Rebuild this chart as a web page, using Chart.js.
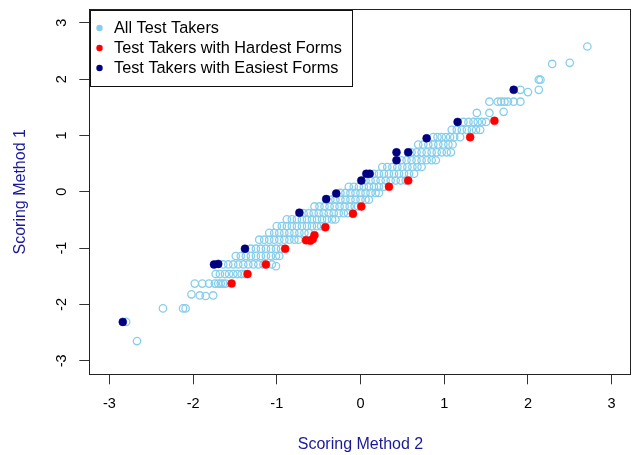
<!DOCTYPE html>
<html>
<head>
<meta charset="utf-8">
<script src="https://cdn.jsdelivr.net/npm/chart.js@4/dist/chart.umd.min.js"></script>
<style>
  html, body { margin: 0; padding: 0; background: #ffffff; }
  #c { display: block; }
</style>
</head>
<body>
<canvas id="c" width="637" height="455"></canvas>
<script>
// ---------------- data ----------------
const seriesLabels = ['All Test Takers', 'Test Takers with Hardest Forms', 'Test Takers with Easiest Forms'];
const xTitle = 'Scoring Method 2';
const yTitle = 'Scoring Method 1';
const xTicks = [-3, -2, -1, 0, 1, 2, 3];
const yTicks = [-3, -2, -1, 0, 1, 2, 3];

// [Scoring Method 2, Scoring Method 1]
const allTakers = [
  [-2.67,-2.65],
  [-2.80,-2.31],
  [-2.36,-2.07],[-2.12,-2.07],[-2.09,-2.07],
  [-2.02,-1.82],[-1.92,-1.84],[-1.85,-1.85],[-1.76,-1.84],
  [-1.98,-1.63],[-1.89,-1.63],[-1.81,-1.63],[-1.74,-1.63],[-1.70,-1.63],[-1.67,-1.63],[-1.64,-1.63],[-1.61,-1.63],
  [-1.73,-1.46],[-1.68,-1.46],[-1.62,-1.46],[-1.57,-1.46],[-1.52,-1.46],[-1.47,-1.46],[-1.42,-1.46],[-1.38,-1.46],
  [-1.64,-1.29],[-1.58,-1.29],[-1.52,-1.29],[-1.46,-1.29],[-1.40,-1.29],[-1.34,-1.29],[-1.28,-1.29],[-1.22,-1.29],[-1.16,-1.29],[-1.06,-1.29],[-1.01,-1.32],
  [-1.49,-1.14],[-1.43,-1.14],[-1.37,-1.14],[-1.31,-1.14],[-1.25,-1.14],[-1.19,-1.14],[-1.13,-1.14],[-1.07,-1.14],[-1.01,-1.14],[-0.97,-1.14],
  [-1.31,-1.01],[-1.25,-1.01],[-1.19,-1.01],[-1.13,-1.01],[-1.07,-1.01],[-1.01,-1.01],[-0.95,-1.01],
  [-1.21,-0.85],[-1.15,-0.85],[-1.09,-0.85],[-1.03,-0.85],[-0.97,-0.85],[-0.91,-0.85],[-0.85,-0.85],[-0.79,-0.85],[-0.74,-0.85],
  [-1.09,-0.73],[-1.03,-0.73],[-0.97,-0.73],[-0.91,-0.73],[-0.85,-0.73],[-0.79,-0.73],[-0.73,-0.73],[-0.67,-0.73],[-0.62,-0.73],
  [-1.00,-0.61],[-0.94,-0.61],[-0.88,-0.61],[-0.82,-0.61],[-0.76,-0.61],[-0.70,-0.61],[-0.64,-0.61],[-0.58,-0.61],[-0.52,-0.61],[-0.47,-0.61],
  [-0.88,-0.49],[-0.82,-0.49],[-0.76,-0.49],[-0.70,-0.49],[-0.64,-0.49],[-0.58,-0.49],[-0.52,-0.49],[-0.46,-0.49],[-0.40,-0.49],[-0.34,-0.49],[-0.30,-0.49],
  [-0.68,-0.38],[-0.62,-0.38],[-0.56,-0.38],[-0.50,-0.38],[-0.44,-0.38],[-0.38,-0.38],[-0.32,-0.38],[-0.26,-0.38],[-0.20,-0.38],[-0.15,-0.38],
  [-0.55,-0.26],[-0.49,-0.26],[-0.43,-0.26],[-0.37,-0.26],[-0.31,-0.26],[-0.25,-0.26],[-0.19,-0.26],[-0.13,-0.26],[-0.07,-0.26],[-0.03,-0.26],
  [-0.36,-0.14],[-0.30,-0.14],[-0.24,-0.14],[-0.18,-0.14],[-0.12,-0.14],[-0.06,-0.14],[0.00,-0.14],[0.06,-0.14],[0.10,-0.14],
  [-0.24,-0.02],[-0.18,-0.02],[-0.12,-0.02],[-0.06,-0.02],[0.00,-0.02],[0.06,-0.02],[0.12,-0.02],[0.18,-0.02],[0.22,-0.02],
  [-0.14,0.09],[-0.08,0.09],[-0.02,0.09],[0.04,0.09],[0.10,0.09],[0.16,0.09],[0.22,0.09],[0.28,0.09],
  [0.06,0.20],[0.12,0.20],[0.18,0.20],[0.24,0.20],[0.30,0.20],[0.36,0.20],[0.42,0.20],[0.48,0.20],[0.54,0.20],
  [0.16,0.32],[0.22,0.32],[0.28,0.32],[0.34,0.32],[0.40,0.32],[0.46,0.32],[0.52,0.32],[0.58,0.32],[0.64,0.32],
  [0.26,0.44],[0.32,0.44],[0.38,0.44],[0.44,0.44],[0.50,0.44],[0.56,0.44],[0.62,0.44],[0.68,0.44],[0.73,0.44],
  [0.49,0.56],[0.55,0.56],[0.61,0.56],[0.67,0.56],[0.73,0.56],[0.79,0.56],[0.85,0.56],[0.90,0.56],
  [0.61,0.70],[0.67,0.70],[0.73,0.70],[0.79,0.70],[0.85,0.70],[0.91,0.70],[0.97,0.70],[1.03,0.70],[1.08,0.70],
  [0.69,0.84],[0.75,0.84],[0.81,0.84],[0.87,0.84],[0.93,0.84],[0.99,0.84],[1.05,0.84],[1.10,0.84],
  [0.87,0.97],[0.92,0.97],[0.97,0.97],[1.02,0.97],[1.07,0.97],[1.12,0.97],[1.19,0.97],
  [1.09,1.10],[1.15,1.10],[1.21,1.10],[1.27,1.10],[1.33,1.10],[1.38,1.10],[1.43,1.10],
  [1.23,1.24],[1.29,1.24],[1.35,1.24],[1.40,1.24],[1.45,1.24],[1.50,1.24],
  [1.39,1.40],[1.54,1.40],[1.71,1.42],
  [1.54,1.60],[1.64,1.60],[1.68,1.60],[1.72,1.60],[1.76,1.60],[1.83,1.60],[1.91,1.60],
  [1.91,1.81],[2.00,1.77],[2.13,1.81],
  [2.13,1.99],[2.15,1.99],
  [2.29,2.27],[2.50,2.29],
  [2.71,2.58]
];

const hardestForms = [
  [-1.54,-1.63],[-1.35,-1.46],[-1.13,-1.29],[-0.90,-1.01],
  [-0.65,-0.86],[-0.60,-0.87],[-0.57,-0.84],[-0.55,-0.77],
  [-0.42,-0.63],[-0.09,-0.39],[0.01,-0.26],[0.34,0.09],[0.57,0.20],
  [1.31,0.97],[1.60,1.26]
];

const easiestForms = [
  [-2.84,-2.31],[-1.75,-1.29],[-1.70,-1.28],[-1.38,-1.01],
  [-0.73,-0.37],[-0.41,-0.13],[-0.29,-0.03],[0.01,0.20],[0.07,0.32],[0.11,0.32],
  [0.43,0.56],[0.43,0.70],[0.57,0.70],[0.79,0.95],[1.16,1.24],[1.83,1.81]
];

const seriesColors = ['#87CEEB', '#FF0000', '#000080'];

// ---------------- chart ----------------
const FONT = '"Liberation Sans", Arial, Helvetica, sans-serif';
const toPts = arr => arr.map(p => ({ x: p[0], y: p[1] }));

const boxPlugin = {
  id: 'boxPlugin',
  afterDraw(chart) {
    const { ctx, chartArea: a } = chart;
    ctx.save();
    ctx.strokeStyle = '#222';
    ctx.lineWidth = 1;
    ctx.strokeRect(Math.round(a.left) + 0.5, Math.round(a.top) + 0.5,
                   Math.round(a.right - a.left) - 1, Math.round(a.bottom - a.top));
    // legend box
    const lx = 90.5, ly = 10.5, lw = 262, lh = 76;
    ctx.fillStyle = '#fff';
    ctx.fillRect(lx, ly, lw, lh);
    ctx.strokeStyle = '#111';
    ctx.strokeRect(lx, ly, lw, lh);
    ctx.font = '16.3px ' + FONT;
    ctx.textBaseline = 'middle';
    ctx.textAlign = 'left';
    chart.data.datasets.forEach((ds, i) => {
      const y = 28 + i * 20;
      ctx.beginPath();
      ctx.arc(99.5, y, 3.2, 0, Math.PI * 2);
      ctx.fillStyle = seriesColors[i];
      ctx.fill();
      ctx.fillStyle = '#000';
      ctx.fillText(ds.label, 114, y + 1);
    });
    ctx.restore();
  }
};

const tickAxis = (ticksArr, title, isY) => ({
  type: 'linear',
  min: -3.24,
  max: 3.24,
  afterBuildTicks: s => { s.ticks = ticksArr.map(v => ({ value: v })); },
  afterFit: s => {
    if (isY) { s.width = 89.3; s.paddingTop = 0; s.paddingBottom = 0; }
    else { s.height = 80.7; s.paddingLeft = 0; s.paddingRight = 0; }
  },
  grid: {
    display: true,
    drawOnChartArea: false,
    drawTicks: true,
    tickLength: 10,
    tickColor: '#333',
    tickWidth: 1
  },
  border: { display: false },
  ticks: Object.assign({
    color: '#000',
    font: { family: FONT, size: 14.5 },
    autoSkip: false,
    callback: v => String(v)
  }, isY ? { minRotation: 90, maxRotation: 90, crossAlign: 'center', padding: 11 } : { padding: 11, maxRotation: 0 }),
  title: {
    display: true,
    text: title,
    color: '#1a1a99',
    font: { family: FONT, size: 16 },
    padding: isY ? { top: 10.5, bottom: 0 } : { top: 0, bottom: 1 }
  }
});

new Chart(document.getElementById('c'), {
  type: 'scatter',
  data: {
    datasets: [
      {
        label: seriesLabels[0],
        data: toPts(allTakers),
        order: 3,
        pointStyle: 'circle',
        pointRadius: 3.7,
        pointBorderWidth: 1.3,
        pointBackgroundColor: 'rgba(255,255,255,0)',
        pointBorderColor: seriesColors[0]
      },
      {
        label: seriesLabels[1],
        data: toPts(hardestForms),
        order: 2,
        pointRadius: 4,
        pointBorderWidth: 0.5,
        pointBackgroundColor: seriesColors[1],
        pointBorderColor: seriesColors[1]
      },
      {
        label: seriesLabels[2],
        data: toPts(easiestForms),
        order: 1,
        pointRadius: 4,
        pointBorderWidth: 0.5,
        pointBackgroundColor: seriesColors[2],
        pointBorderColor: seriesColors[2]
      }
    ]
  },
  options: {
    responsive: false,
    animation: false,
    events: [],
    layout: { padding: { top: 9.3, right: 2.7, left: 0, bottom: 0 } },
    plugins: { legend: { display: false }, tooltip: { enabled: false } },
    scales: {
      x: tickAxis(xTicks, xTitle, false),
      y: tickAxis(yTicks, yTitle, true)
    }
  },
  plugins: [boxPlugin]
});
</script>
</body>
</html>
